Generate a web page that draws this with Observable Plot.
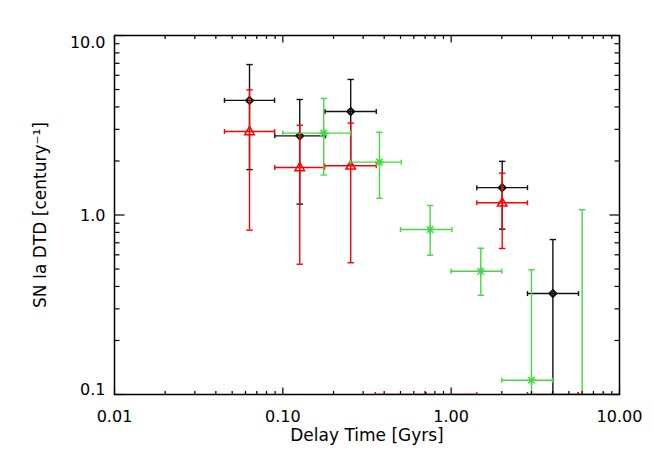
<!DOCTYPE html>
<html><head><meta charset="utf-8">
<script src="https://cdn.jsdelivr.net/npm/d3@7"></script>
<script src="https://cdn.jsdelivr.net/npm/@observablehq/plot@0.6"></script>
<style>body{margin:0;background:#fff;}</style>
</head><body><div id="chart"></div>
<script>
// Black diamonds
const blackX   = [0.0634, 0.126, 0.253, 2.01, 4.02];
const blackXLo = [0.045, 0.0896, 0.178, 1.42, 2.84];
const blackXHi = [0.0893, 0.179, 0.359, 2.84, 5.71];
const blackY   = [4.35, 2.76, 3.77, 1.42, 0.365];
const blackYLo = [1.79, 1.15, 1.9, 0.834, 0.05];
const blackYHi = [6.89, 4.40, 5.69, 1.99, 0.730];

// Red triangles (0.1 = at/below the axis floor)
const redX   = [0.0634, 0.126, 0.253, 0.5, 1.0, 2.01, 4.0, 8.0];
const redXLo = [0.045, 0.0896, 0.177, 0.354, 0.707, 1.42, 2.84, 5.68];
const redXHi = [0.0893, 0.177, 0.359, 0.707, 1.42, 2.84, 5.68, 11.3];
const redY   = [2.92, 1.84, 1.88, 0.1, 0.1, 1.17, 0.1, 0.1];
const redYLo = [0.823, 0.532, 0.542, 0.1, 0.1, 0.651, 0.1, 0.1];
const redYHi = [4.98, 3.16, 3.25, 0.1, 0.1, 1.71, 0.1, 0.1];

// Green asterisks
const greenX   = [0.175, 0.375, 0.75, 1.5, 3.0, 6.0];
const greenXLo = [0.1, 0.252, 0.5, 1.0, 2.0, 4.0];
const greenXHi = [0.252, 0.505, 1.01, 2.0, 4.0, 8.04];
const greenY   = [2.86, 1.97, 0.83, 0.486, 0.12, 0.1];
const greenYLo = [1.67, 1.24, 0.597, 0.357, 0.05, 0.1];
const greenYHi = [4.46, 2.89, 1.13, 0.653, 0.495, 1.07];

// Axis ticks
const xMajor = [0.01, 0.1, 1, 10];
const xMinor = [0.02,0.03,0.04,0.05,0.06,0.07,0.08,0.09, 0.2,0.3,0.4,0.5,0.6,0.7,0.8,0.9, 2,3,4,5,6,7,8,9];
const yMajor = [0.1, 1, 10];
const yMinor = [0.2,0.3,0.4,0.5,0.6,0.7,0.8,0.9, 2,3,4,5,6,7,8,9];

const xLabel = "Delay Time [Gyrs]";
const yLabel = "SN Ia DTD [century\u207B\u00B9]";

function rows(x, xlo, xhi, y, ylo, yhi) {
  return x.map((v, i) => ({x: v, xlo: xlo[i], xhi: xhi[i], y: y[i], ylo: ylo[i], yhi: yhi[i]}));
}
const black = rows(blackX, blackXLo, blackXHi, blackY, blackYLo, blackYHi);
const red = rows(redX, redXLo, redXHi, redY, redYLo, redYHi);
const green = rows(greenX, greenXLo, greenXHi, greenY, greenYLo, greenYHi);

function sym(fn) { return {draw(ctx, size) { fn(ctx, Math.sqrt(size / Math.PI)); }}; }
const vLine = sym((c, r) => { c.moveTo(0, -r); c.lineTo(0, r); });
const hLine = sym((c, r) => { c.moveTo(-r, 0); c.lineTo(r, 0); });
const tUp = sym((c, r) => { c.moveTo(0, 0); c.lineTo(0, -r); });
const tDown = sym((c, r) => { c.moveTo(0, 0); c.lineTo(0, r); });
const tRight = sym((c, r) => { c.moveTo(0, 0); c.lineTo(r, 0); });
const tLeft = sym((c, r) => { c.moveTo(0, 0); c.lineTo(-r, 0); });
const diamond = sym((c, r) => { c.moveTo(0, -r); c.lineTo(r, 0); c.lineTo(0, r); c.lineTo(-r, 0); c.closePath(); });
const triangle = sym((c, r) => { c.moveTo(0, -r); c.lineTo(r * 0.95, r * 0.65); c.lineTo(-r * 0.95, r * 0.65); c.closePath(); });
const asterisk = sym((c, r) => { const d = r * 0.72;
  c.moveTo(-r, 0); c.lineTo(r, 0); c.moveTo(0, -r); c.lineTo(0, r);
  c.moveTo(-d, -d); c.lineTo(d, d); c.moveTo(-d, d); c.lineTo(d, -d); });

function series(data, color, symbol, r, sw) {
  const s = {stroke: color, strokeWidth: 1.4, clip: true};
  return [
    Plot.ruleY(data, {y: "y", x1: "xlo", x2: "xhi", ...s}),
    Plot.ruleX(data.filter(d => d.yhi > d.ylo), {x: "x", y1: "ylo", y2: "yhi", ...s}),
    Plot.dot(data, {x: "xlo", y: "y", symbol: vLine, r: 2.5, ...s}),
    Plot.dot(data, {x: "xhi", y: "y", symbol: vLine, r: 2.5, ...s}),
    Plot.dot(data.filter(d => d.yhi > d.y), {x: "x", y: "yhi", symbol: hLine, r: 3.2, ...s}),
    Plot.dot(data.filter(d => d.ylo < d.y), {x: "x", y: "ylo", symbol: hLine, r: 3.2, ...s}),
    Plot.dot(data.filter(d => d.y > 0.1), {x: "x", y: "y", symbol, r, stroke: color, fill: "none", strokeWidth: sw, clip: true})
  ];
}

const tick = {stroke: "black", strokeWidth: 1.2};
const chart = Plot.plot({
  width: 654, height: 467,
  marginLeft: 114, marginRight: 35, marginTop: 35, marginBottom: 73,
  style: {fontFamily: "'DejaVu Sans', sans-serif", fontSize: "16px", color: "black", background: "white"},
  x: {type: "log", domain: [0.01, 10]},
  y: {type: "log", domain: [0.1, 10]},
  marks: [
    ...series(black, "#111111", diamond, 3.5, 2),
    ...series(red, "#ff0000", triangle, 5, 1.5),
    ...series(green, "#44d844", asterisk, 4.5, 1.5),
    // ticks, pointing inward on all four sides
    Plot.dot(xMajor, {x: d => d, frameAnchor: "bottom", symbol: tUp, r: 7, ...tick}),
    Plot.dot(xMinor, {x: d => d, frameAnchor: "bottom", symbol: tUp, r: 3.5, ...tick}),
    Plot.dot(xMajor, {x: d => d, frameAnchor: "top", symbol: tDown, r: 7, ...tick}),
    Plot.dot(xMinor, {x: d => d, frameAnchor: "top", symbol: tDown, r: 3.5, ...tick}),
    Plot.dot(yMajor, {y: d => d, frameAnchor: "left", symbol: tRight, r: 10, ...tick}),
    Plot.dot(yMinor, {y: d => d, frameAnchor: "left", symbol: tRight, r: 5, ...tick}),
    Plot.dot(yMajor, {y: d => d, frameAnchor: "right", symbol: tLeft, r: 10, ...tick}),
    Plot.dot(yMinor, {y: d => d, frameAnchor: "right", symbol: tLeft, r: 5, ...tick}),
    // tick labels
    Plot.axisX(xMajor, {tickSize: 0, tickPadding: 16, tickFormat: d => d.toFixed(2), fontSize: 16, label: null}),
    Plot.axisY([10], {tickSize: 0, tickPadding: 9, dy: 7, tickFormat: d => d.toFixed(1), fontSize: 16, label: null}),
    Plot.axisY([1], {tickSize: 0, tickPadding: 9, dy: 0.5, tickFormat: d => d.toFixed(1), fontSize: 16, label: null}),
    Plot.axisY([0.1], {tickSize: 0, tickPadding: 9, dy: -5, tickFormat: d => d.toFixed(1), fontSize: 16, label: null}),
    // axis titles
    Plot.text([xLabel], {text: d => d, frameAnchor: "bottom", dy: 46, fontSize: 17}),
    Plot.text([yLabel], {text: d => d, frameAnchor: "left", textAnchor: "middle", lineAnchor: "middle", dx: -74, rotate: -90, fontSize: 17}),
    Plot.frame({stroke: "black", strokeWidth: 1.5})
  ]
});
document.getElementById("chart").append(chart);
</script>
</body></html>
